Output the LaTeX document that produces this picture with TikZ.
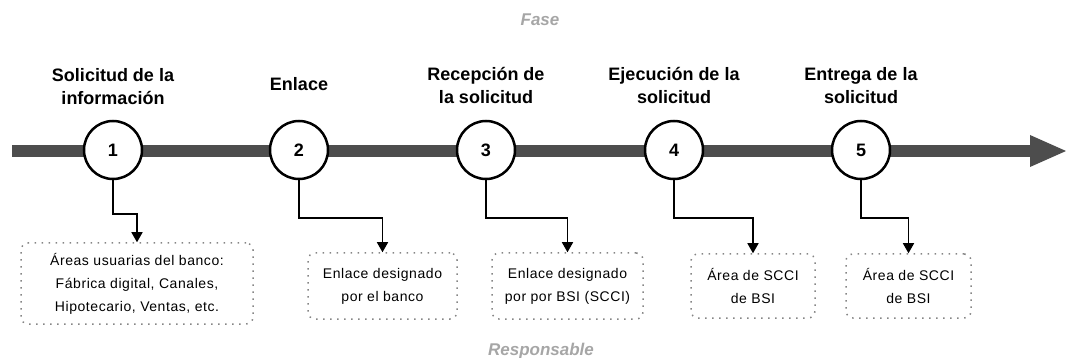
\documentclass[tikz,border=0pt]{standalone}
\usepackage{fontspec}
\setmainfont{Liberation Sans}
\newfontfamily\boxfont[LetterSpace=4]{Liberation Sans}
\usetikzlibrary{arrows.meta}
\definecolor{bargray}{HTML}{4D4D4D}
\definecolor{boxgray}{HTML}{858585}
\definecolor{labelgray}{HTML}{A6A6A6}
\begin{document}
\begin{tikzpicture}[x=1pt,y=-1pt,
  title/.style={font=\fontsize{18}{23}\selectfont\bfseries, align=center, anchor=base, inner sep=0pt},
  numcircle/.style={circle, draw=black, line width=2.5pt, fill=white, minimum size=58pt, inner sep=0pt, font=\fontsize{18}{18}\selectfont\bfseries},
  resp/.style={draw=boxgray, line width=1.5pt, dash pattern=on 1.5pt off 5.5pt, rounded corners=7pt, align=center, font=\boxfont\fontsize{14}{23}\selectfont, inner sep=0pt},
  conn/.style={draw=black, line width=1.5pt, -{Triangle[length=10pt,width=11pt]}},
  sidelabel/.style={font=\fontsize{17}{17}\selectfont\bfseries\itshape, text=labelgray, anchor=base, inner sep=0pt}]
\useasboundingbox (0,0) rectangle (1066,358);

% timeline bar
\coordinate (tstart) at (12,151);
\coordinate (tend) at (1030,151);
\coordinate (ttip) at (1066,151);
\fill[bargray] (12,145) rectangle (1031,157);
\fill[bargray] (1030,135) -- (ttip) -- (1030,167) -- cycle;

% labels
\node[sidelabel] (fase) at (540,26) {Fase};
\node[sidelabel] (responsable) at (541,355) {Responsable};

% titles (base = last line)
\node[title] (t1) at (113,105) {Solicitud de la\\información};
\node[title] (t2) at (299,91) {Enlace};
\node[title] (t3) at (486,104) {Recepción de\\la solicitud};
\node[title] (t4) at (674,104) {Ejecución de la\\solicitud};
\node[title] (t5) at (861,104) {Entrega de la\\solicitud};

% circles
\node[numcircle] (c1) at (113,150) {1};
\node[numcircle] (c2) at (299,150) {2};
\node[numcircle] (c3) at (486,150) {3};
\node[numcircle] (c4) at (674,150) {4};
\node[numcircle] (c5) at (861,150) {5};

% responsible boxes
\node[resp, minimum width=232pt, minimum height=81pt] (b1) at (137,283.5) {Áreas usuarias del banco:\\Fábrica digital, Canales,\\Hipotecario, Ventas, etc.};
\node[resp, minimum width=149pt, minimum height=66pt] (b2) at (382.5,286) {Enlace designado\\por el banco};
\node[resp, minimum width=151pt, minimum height=66pt] (b3) at (567.5,286) {Enlace designado\\por por BSI (SCCI)};
\node[resp, minimum width=124pt, minimum height=64pt] (b4) at (753,286) {Área de SCCI\\de BSI};
\node[resp, minimum width=125pt, minimum height=64pt] (b5) at (908.5,286) {Área de SCCI\\de BSI};

% connectors
\draw[conn] (c1.south) -- ++(0,34) -| (b1.north);
\draw[conn] (c2.south) -- ++(0,38) -| (b2.north);
\draw[conn] (c3.south) -- ++(0,38) -| (b3.north);
\draw[conn] (c4.south) -- ++(0,38) -| (b4.north);
\draw[conn] (c5.south) -- ++(0,38) -| (b5.north);
\end{tikzpicture}
\end{document}
